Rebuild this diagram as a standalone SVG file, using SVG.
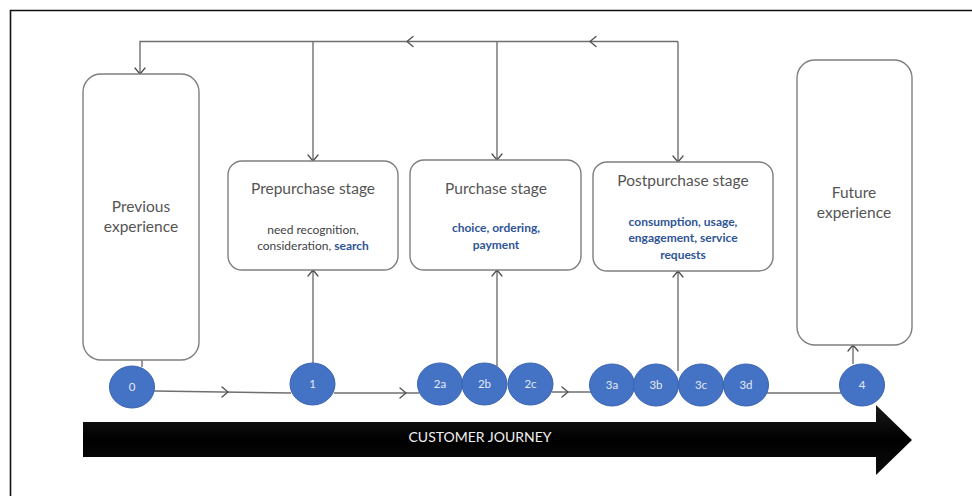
<svg xmlns="http://www.w3.org/2000/svg" width="972" height="496" viewBox="0 0 972 496">
  <defs>
    <style>
      .box { fill: #ffffff; stroke: #7f7f7f; stroke-width: 1.4; }
      .wire { fill: none; stroke: #6f6f6f; stroke-width: 1.4; }
      .head { fill: none; stroke: #505050; stroke-width: 1.3; stroke-linecap: round; stroke-linejoin: round; }
      .title { font-family: Lato, "Open Sans", "Liberation Sans", sans-serif; font-size: 15.5px; fill: #555555; text-anchor: middle; }
      .sub { font-family: Lato, "Open Sans", "Liberation Sans", sans-serif; font-size: 12px; fill: #3f3f3f; text-anchor: middle; }
      .blue { fill: #2f5597; font-weight: bold; }
      .dot { fill: #4472c4; stroke: #3b64b0; stroke-width: 1; }
      .dotlabel { font-family: Lato, "Open Sans", "Liberation Sans", sans-serif; font-size: 11.5px; fill: #e4eaf6; text-anchor: middle; }
      .band { font-family: Lato, "Open Sans", "Liberation Sans", sans-serif; font-size: 14px; fill: #f0f0f0; text-anchor: middle; }
    </style>
    <linearGradient id="bandFill" x1="0" y1="0" x2="0" y2="1">
      <stop offset="0" stop-color="#1a1a1a"/>
      <stop offset="0.5" stop-color="#000000"/>
      <stop offset="1" stop-color="#0d0d0d"/>
    </linearGradient>
  </defs>

  <!-- outer frame (left and top edges) -->
  <path d="M10.5 496 V10.5 H972" fill="none" stroke="#111" stroke-width="1.6"/>

  <!-- journey band -->
  <g id="journey">
    <polygon points="83,422 876,422 876,405 912,440 876,475 876,457 83,457" fill="url(#bandFill)"/>
    <text class="band" x="480" y="442">CUSTOMER JOURNEY</text>
  </g>

  <!-- connectors -->
  <g id="connectors">
    <!-- feedback loop along the top -->
    <path class="wire" d="M678 41.5 H140 V74"/>
    <path class="wire" d="M313 41.5 V161"/>
    <path class="wire" d="M497 41.5 V160"/>
    <path class="wire" d="M678 41.5 V162"/>
    <path class="head" d="M413 36.5 L407 41.5 L413 46.5"/>
    <path class="head" d="M596 36.5 L590 41.5 L596 46.5"/>
    <path class="head" d="M135 68 L140 74 L145 68"/>
    <path class="head" d="M308 155 L313 161 L318 155"/>
    <path class="head" d="M492 154 L497 160 L502 154"/>
    <path class="head" d="M673 156 L678 162 L683 156"/>

    <!-- touchpoints up to the stages -->
    <path class="wire" d="M313 363 V270"/>
    <path class="head" d="M308 276 L313 270 L318 276"/>
    <path class="wire" d="M497 366 V270"/>
    <path class="head" d="M492 276 L497 270 L502 276"/>
    <path class="wire" d="M678 371 V271"/>
    <path class="head" d="M673 277 L678 271 L683 277"/>
    <path class="wire" d="M853 364 V345"/>
    <path class="head" d="M848 351 L853 345 L858 351"/>

    <!-- previous experience down to touchpoint 0 -->
    <path class="wire" d="M142 360 V367"/>

    <!-- timeline between touchpoints -->
    <path class="wire" d="M154 391 L291 393"/>
    <path class="head" d="M222 387 L228 392 L222 397"/>
    <path class="wire" d="M334 393 H419"/>
    <path class="head" d="M400 388 L406 393 L400 398"/>
    <path class="wire" d="M552 392 H591"/>
    <path class="head" d="M562 387 L568 392 L562 397"/>
    <path class="wire" d="M727 393 H841"/>
  </g>

  <!-- stage boxes -->
  <g id="previous-experience">
    <rect class="box" x="83" y="74" width="116" height="286" rx="18"/>
    <text class="title" x="141" y="212">Previous</text>
    <text class="title" x="141" y="232">experience</text>
  </g>

  <g id="prepurchase-stage">
    <rect class="box" x="228" y="161" width="170" height="109" rx="14"/>
    <text class="title" x="313" y="194">Prepurchase stage</text>
    <text class="sub" x="313" y="234">need recognition,</text>
    <text class="sub" x="313" y="250">consideration, <tspan class="blue">search</tspan></text>
  </g>

  <g id="purchase-stage">
    <rect class="box" x="410" y="160" width="171" height="110" rx="14"/>
    <text class="title" x="496" y="194">Purchase stage</text>
    <text class="sub blue" x="496" y="232">choice, ordering,</text>
    <text class="sub blue" x="496" y="249">payment</text>
  </g>

  <g id="postpurchase-stage">
    <rect class="box" x="593" y="162" width="180" height="109" rx="14"/>
    <text class="title" x="683" y="186">Postpurchase stage</text>
    <text class="sub blue" x="683" y="226">consumption, usage,</text>
    <text class="sub blue" x="683" y="242">engagement, service</text>
    <text class="sub blue" x="683" y="259">requests</text>
  </g>

  <g id="future-experience">
    <rect class="box" x="797" y="60" width="115" height="285" rx="18"/>
    <text class="title" x="854" y="198">Future</text>
    <text class="title" x="854" y="218">experience</text>
  </g>

  <!-- touchpoints -->
  <g id="tp-0"><ellipse class="dot" cx="132" cy="387" rx="22.5" ry="21"/><text class="dotlabel" x="132" y="391">0</text></g>
  <g id="tp-1"><ellipse class="dot" cx="312.5" cy="384" rx="22.5" ry="21"/><text class="dotlabel" x="312.5" y="388">1</text></g>
  <g id="tp-2a"><ellipse class="dot" cx="440" cy="384" rx="22.5" ry="21"/><text class="dotlabel" x="440" y="388">2a</text></g>
  <g id="tp-2b"><ellipse class="dot" cx="484.5" cy="384" rx="22.5" ry="21"/><text class="dotlabel" x="484.5" y="388">2b</text></g>
  <g id="tp-2c"><ellipse class="dot" cx="530.5" cy="384" rx="22.5" ry="21"/><text class="dotlabel" x="530.5" y="388">2c</text></g>
  <g id="tp-3a"><ellipse class="dot" cx="612" cy="385" rx="22.5" ry="21"/><text class="dotlabel" x="612" y="389">3a</text></g>
  <g id="tp-3b"><ellipse class="dot" cx="656" cy="385" rx="22.5" ry="21"/><text class="dotlabel" x="656" y="389">3b</text></g>
  <g id="tp-3c"><ellipse class="dot" cx="701" cy="385" rx="22.5" ry="21"/><text class="dotlabel" x="701" y="389">3c</text></g>
  <g id="tp-3d"><ellipse class="dot" cx="746" cy="385" rx="22.5" ry="21"/><text class="dotlabel" x="746" y="389">3d</text></g>
  <g id="tp-4"><ellipse class="dot" cx="862" cy="385" rx="22.5" ry="21"/><text class="dotlabel" x="862" y="389">4</text></g>
</svg>
